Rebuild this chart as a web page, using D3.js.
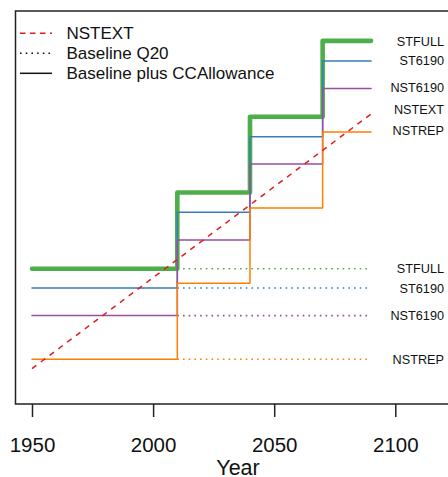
<!DOCTYPE html>
<html>
<head>
<meta charset="utf-8">
<script src="https://cdn.jsdelivr.net/npm/d3@7"></script>
<style>
  body { margin: 0; background: #fff; }
  svg { display: block; font-family: "Liberation Sans", Arial, sans-serif; }
</style>
</head>
<body>
<div id="chart"></div>
<script>
// step years, the last level runs on to endYear
var stepYears = [1950, 2010, 2040, 2070];
var endYear = 2090;
var xTicks = [1950, 2000, 2050, 2100];

// levels per scenario (arbitrary units)
var stfull  = [34.4, 53.8, 73.1, 92.4];
var st6190  = [29.5, 48.8, 68.0, 87.3];
var nst6190 = [22.5, 41.7, 61.1, 80.3];
var nstrep  = [11.4, 30.7, 49.9, 69.2];

// NSTEXT straight line
var nstextYears = [1950, 2090];
var nstextVals  = [9.0, 73.8];

var seriesNames = ["STFULL", "ST6190", "NST6190", "NSTREP"];
var seriesColors = ["#4daf4a", "#377eb8", "#984ea3", "#ff7f00"];
var seriesLevels = [stfull, st6190, nst6190, nstrep];

// label anchors on the right (top group, then baseline group)
var topLabels = ["STFULL", "ST6190", "NST6190", "NSTEXT", "NSTREP"];
var topLabelVals = [92.2, 87.3, 80.6, 75.0, 69.7];

var legendLabels = ["NSTEXT", "Baseline Q20", "Baseline plus CCAllowance"];

var W = 448, H = 477;
var plot = {left: 15.5, top: 11, bottom: 404};

var svg = d3.select("#chart").append("svg")
    .attr("width", W)
    .attr("height", H);

var x = d3.scaleLinear().domain([1950, 2100]).range([32, 395.3]);
var y = d3.scaleLinear().domain([0, 100]).range([plot.bottom, plot.top]);

var stepLine = d3.line()
    .x(d => x(d[0]))
    .y(d => y(d[1]))
    .curve(d3.curveStepAfter);

// baseline dotted lines
seriesLevels.forEach((lv, i) => {
    svg.append("line")
        .attr("x1", x(stepYears[1])).attr("x2", x(endYear))
        .attr("y1", y(lv[0])).attr("y2", y(lv[0]))
        .attr("stroke", seriesColors[i])
        .attr("stroke-width", 1.6)
        .attr("stroke-dasharray", "1.6,4.1");
});

// stepped lines (green thick first)
seriesLevels.forEach((lv, i) => {
    var pts = lv.map((v, j) => [stepYears[j], v]);
    pts.push([endYear, lv[lv.length - 1]]);
    svg.append("path")
        .datum(pts)
        .attr("d", stepLine)
        .attr("fill", "none")
        .attr("stroke", seriesColors[i])
        .attr("stroke-width", i == 0 ? 4.6 : 1.5)
        .attr("stroke-linecap", "round")
        .attr("stroke-linejoin", "round");
});

// NSTEXT red dashed
svg.append("line")
    .attr("x1", x(nstextYears[0])).attr("y1", y(nstextVals[0]))
    .attr("x2", x(nstextYears[1])).attr("y2", y(nstextVals[1]))
    .attr("stroke", "#e41a1c")
    .attr("stroke-width", 1.5)
    .attr("stroke-dasharray", "5.5,5.5");

// right labels
svg.selectAll("text.toplab")
    .data(topLabels).enter()
    .append("text")
    .attr("class", "toplab")
    .attr("x", 444)
    .attr("y", (d, i) => y(topLabelVals[i]))
    .attr("dy", "0.36em")
    .attr("text-anchor", "end")
    .style("font-size", "12.7px")
    .attr("fill", "#111")
    .text(d => d);

svg.selectAll("text.baselab")
    .data(seriesNames).enter()
    .append("text")
    .attr("class", "baselab")
    .attr("x", 444)
    .attr("y", (d, i) => y(seriesLevels[i][0]))
    .attr("dy", "0.36em")
    .attr("text-anchor", "end")
    .style("font-size", "12.7px")
    .attr("fill", "#111")
    .text(d => d);

// frame (right side is off the page)
svg.append("path")
    .attr("d", `M${W + 10},${plot.top}H${plot.left}V${plot.bottom}H${W + 10}`)
    .attr("fill", "none")
    .attr("stroke", "#222")
    .attr("stroke-width", 1.5);

// x axis
var xAxis = svg.append("g")
    .attr("transform", `translate(0, ${plot.bottom})`)
    .call(d3.axisBottom(x).tickValues(xTicks).tickSize(13).tickPadding(20).tickFormat(d3.format("d")));
xAxis.select(".domain").remove();
xAxis.selectAll("line").attr("stroke", "#222").attr("stroke-width", 1.5);
xAxis.selectAll("text")
    .style("font-size", "20.5px")
    .style("font-family", "'Liberation Sans', Arial, sans-serif")
    .attr("fill", "#111");

svg.append("text")
    .attr("x", 238)
    .attr("y", 475)
    .attr("text-anchor", "middle")
    .style("font-size", "21.5px")
    .attr("fill", "#111")
    .text("Year");

// legend
var legendDash = ["5.5,4.5", "1.6,4.1", null];
var legendColor = ["#e41a1c", "#111", "#111"];
legendLabels.forEach((t, i) => {
    var ly = 33.3 + i * 20;
    svg.append("line")
        .attr("x1", 20).attr("x2", 52)
        .attr("y1", ly).attr("y2", ly)
        .attr("stroke", legendColor[i])
        .attr("stroke-width", 1.5)
        .attr("stroke-dasharray", legendDash[i]);
    svg.append("text")
        .attr("x", 66.5)
        .attr("y", ly)
        .attr("dy", "0.36em")
        .style("font-size", "17px")
        .attr("fill", "#111")
        .text(t);
});
</script>
</body>
</html>
